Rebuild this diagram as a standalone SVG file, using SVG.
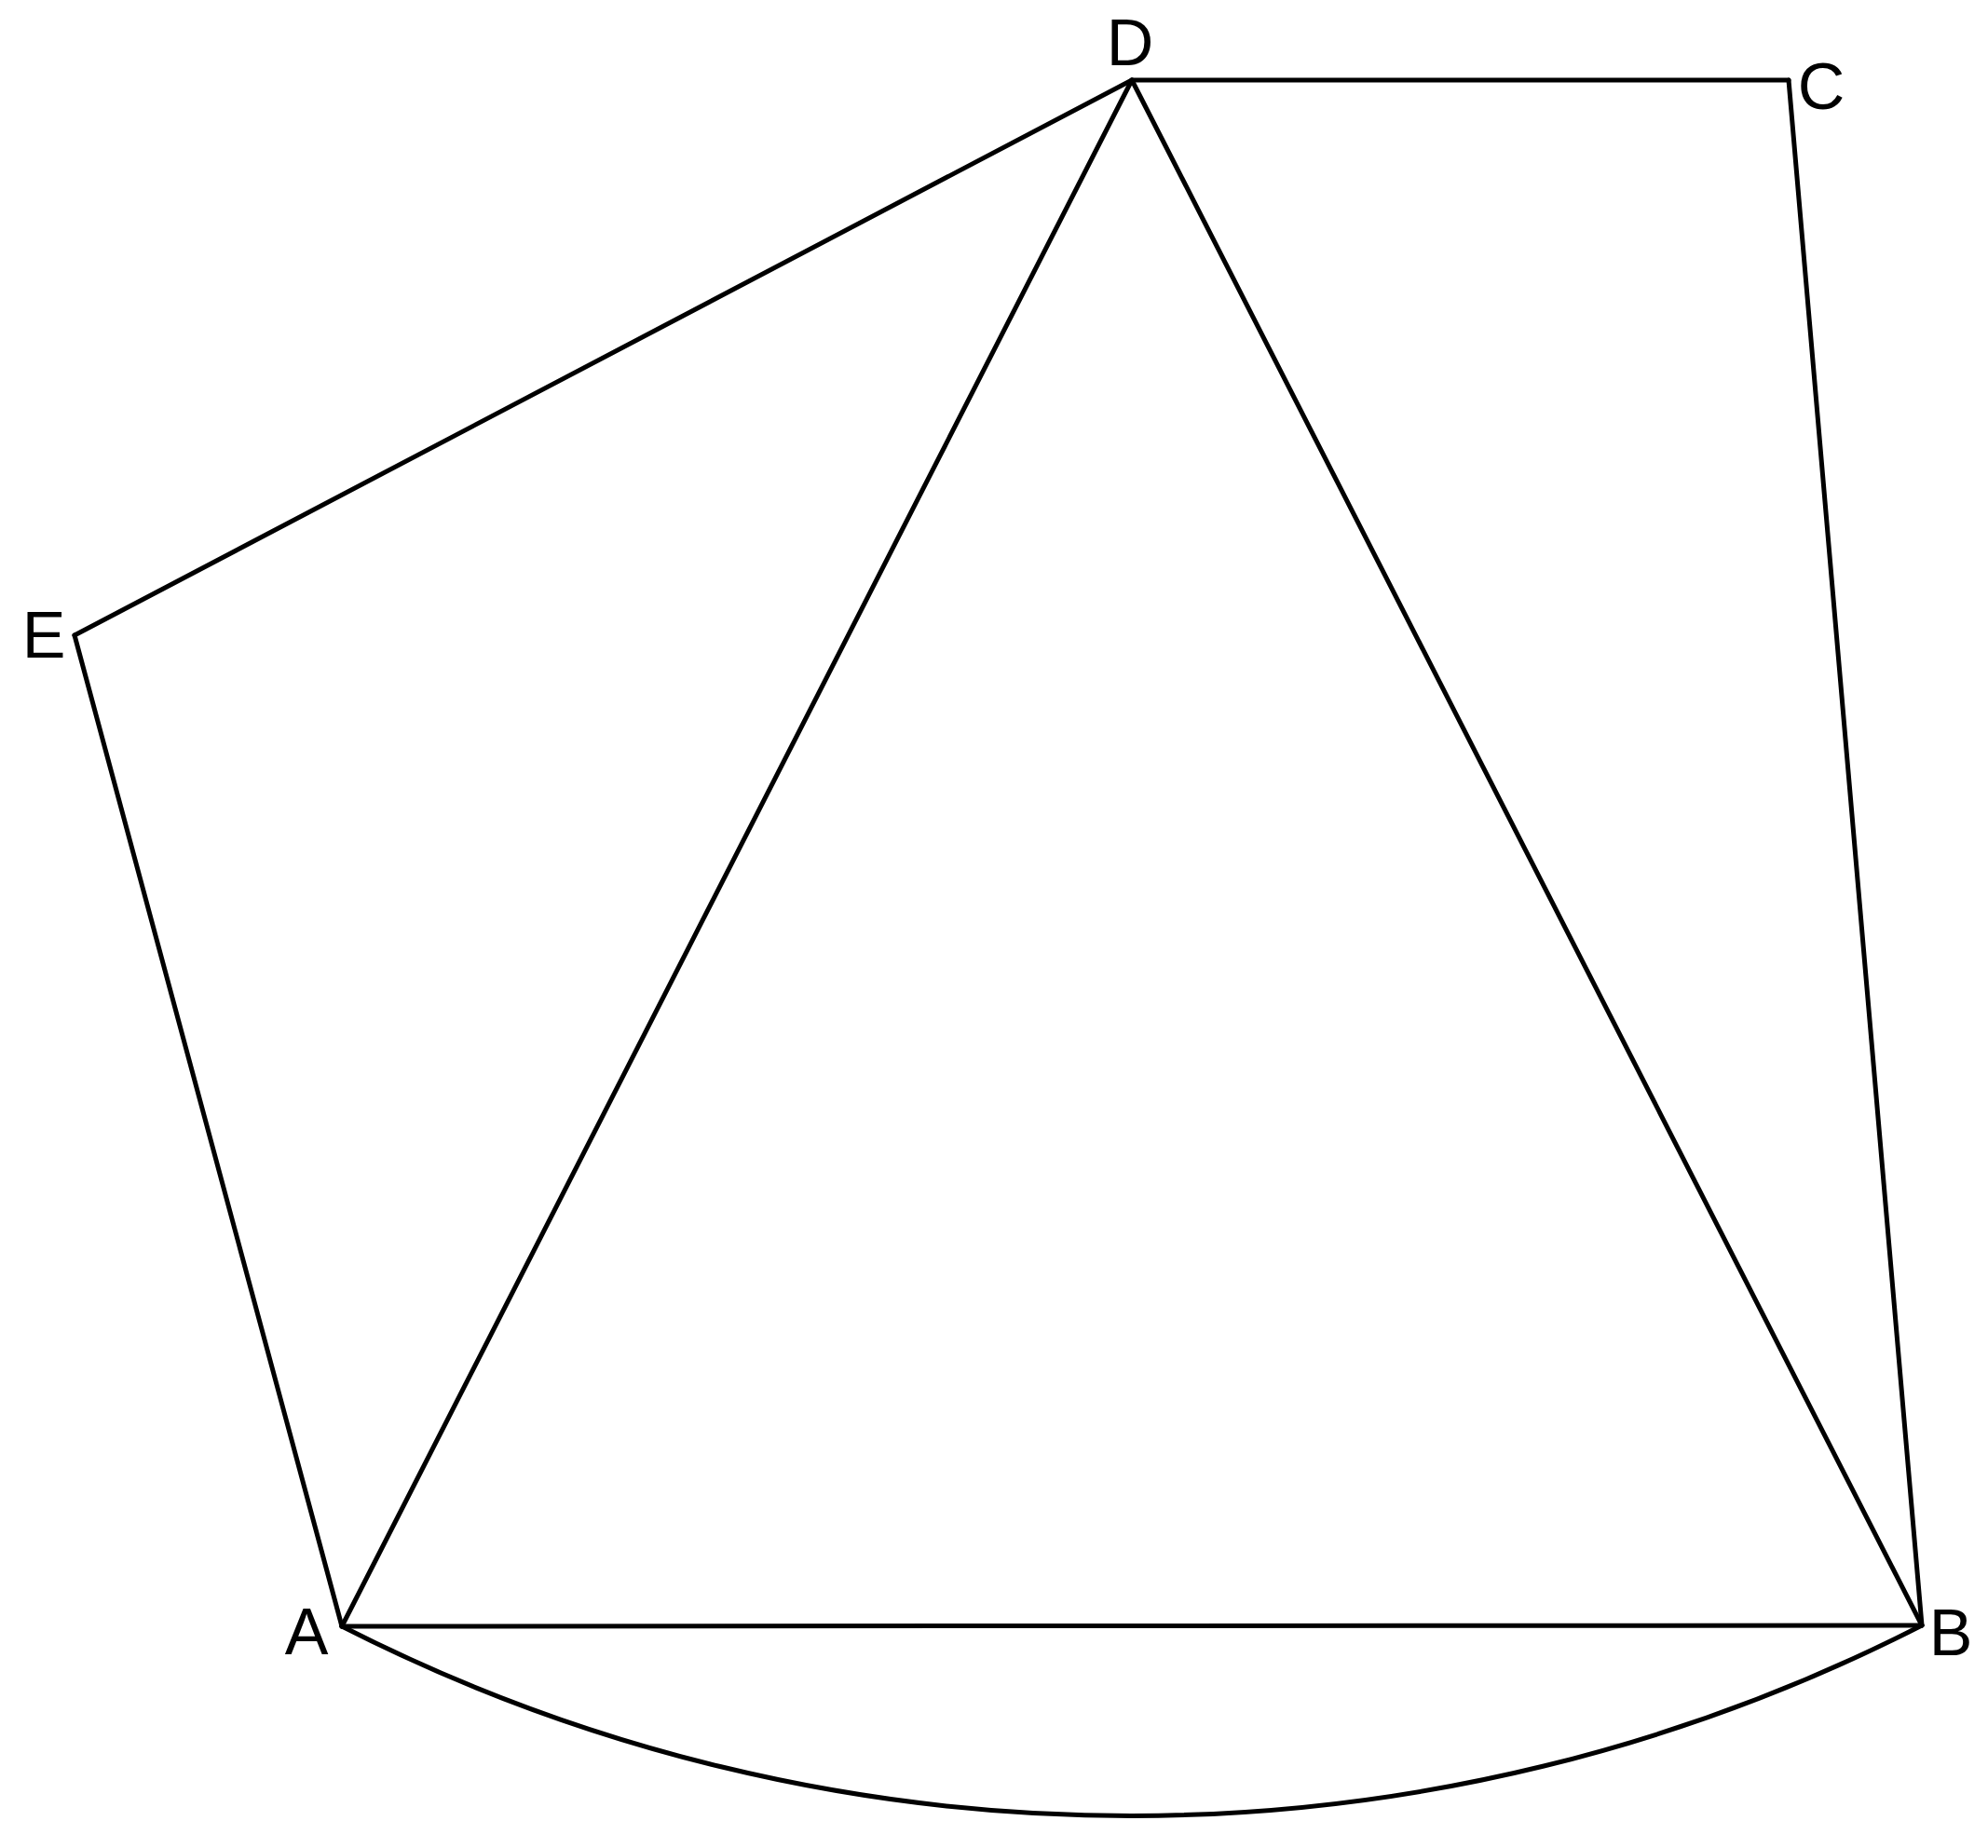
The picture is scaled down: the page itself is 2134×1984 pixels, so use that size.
<svg xmlns="http://www.w3.org/2000/svg" width="2134" height="1984" viewBox="0 0 2134 1984">
<style>
.e{fill:none;stroke:#000;stroke-width:5;stroke-linejoin:miter;stroke-linecap:round}
.l{font-family:"Liberation Sans",Arial,sans-serif;font-size:70px;fill:#000;text-anchor:middle}
</style>
<rect width="2134" height="1984" fill="#fff"/>
<g id="connectors">
<line class="e" x1="1215" y1="86" x2="1920" y2="86"/>
<line class="e" x1="1920" y1="86" x2="2063" y2="1745"/>
<line class="e" x1="1215" y1="86" x2="367" y2="1746"/>
<line class="e" x1="1215" y1="86" x2="2063" y2="1745"/>
<line class="e" x1="367" y1="1746" x2="2063" y2="1745"/>
<line class="e" x1="367" y1="1746" x2="80" y2="682"/>
<line class="e" x1="80" y1="682" x2="1215" y2="86"/>
<path class="e" d="M367 1746 A1865 1865 0 0 0 2063 1745"/>
</g>
<g id="node-D"><text class="l" x="1213" y="70">D</text></g>
<g id="node-C"><text class="l" x="1955" y="117">C</text></g>
<g id="node-E"><text class="l" x="47" y="706">E</text></g>
<g id="node-A"><text class="l" x="329" y="1776">A</text></g>
<g id="node-B"><text class="l" x="2094" y="1777">B</text></g>
</svg>
